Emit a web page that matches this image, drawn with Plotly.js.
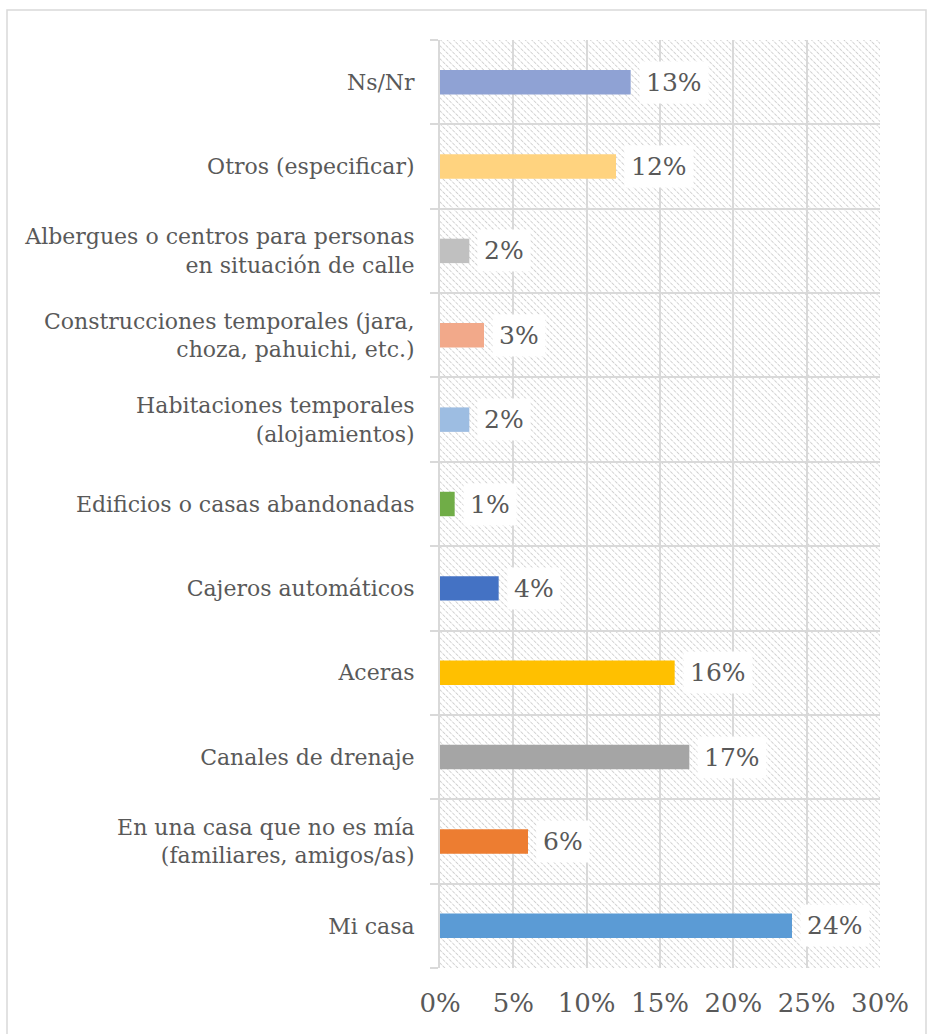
<!DOCTYPE html>
<html>
<head>
<meta charset="utf-8">
<script src="https://cdn.plot.ly/plotly-3.0.1.min.js"></script>
<style>
html,body{margin:0;padding:0;background:#fff;}
#chart{width:927px;height:1034px;}
</style>
</head>
<body>
<div id="chart"></div>
<script>
// Data (bottom to top)
var categories = [
  "Mi casa",
  "En una casa que no es mía<br>(familiares, amigos/as)",
  "Canales de drenaje",
  "Aceras",
  "Cajeros automáticos",
  "Edificios o casas abandonadas",
  "Habitaciones temporales<br>(alojamientos)",
  "Construcciones temporales (jara,<br>choza, pahuichi, etc.)",
  "Albergues o centros para personas<br>en situación de calle",
  "Otros (especificar)",
  "Ns/Nr"
];
var values = [24, 6, 17, 16, 4, 1, 2, 3, 2, 12, 13];
var barColors = ["#5B9BD5","#ED7D31","#A5A5A5","#FFC000","#4472C4","#70AD47","#9DBDE2","#F2A98A","#C0C0C0","#FFD37F","#8FA2D4"];
var xTickVals = [0, 5, 10, 15, 20, 25, 30];

var fontFam = "DejaVu Serif";
var txtColor = "#595959";

var hatchSvg = '<svg xmlns="http://www.w3.org/2000/svg" width="440" height="928">' +
  '<defs><pattern id="p" width="4.6" height="4.6" patternUnits="userSpaceOnUse" patternTransform="rotate(-45)">' +
  '<line x1="0" y1="0" x2="0" y2="4.6" stroke="#cdcdcd" stroke-width="1.7" stroke-dasharray="2,1.2"/></pattern></defs>' +
  '<rect width="440" height="928" fill="#ffffff"/><rect width="440" height="928" fill="url(#p)"/></svg>';
var hatchUri = "data:image/svg+xml;charset=utf-8," + encodeURIComponent(hatchSvg);

var trace = {
  type: "bar",
  orientation: "h",
  y: categories,
  x: values,
  marker: {color: barColors},
  width: 0.29,
  hoverinfo: "none"
};

var annotations = categories.map(function(c, i){
  return {
    x: values[i], y: c, xref: "x", yref: "y",
    text: values[i] + "%",
    showarrow: false, xanchor: "left", xshift: 8,
    bgcolor: "#ffffff", borderpad: 6,
    font: {family: fontFam, size: 25, color: txtColor}
  };
});

var layout = {
  width: 927, height: 1034,
  margin: {l: 440, r: 47, t: 40, b: 66, pad: 0},
  paper_bgcolor: "#ffffff",
  plot_bgcolor: "rgba(0,0,0,0)",
  showlegend: false,
  bargap: 0.7,
  font: {family: fontFam, size: 22, color: txtColor},
  xaxis: {
    range: [0, 30],
    tickvals: xTickVals,
    ticktext: xTickVals.map(function(v){return v + "%";}),
    showgrid: true, gridcolor: "#d9d9d9", gridwidth: 2,
    zeroline: false, showline: false,
    ticks: "", ticklabelstandoff: 17,
    tickfont: {family: fontFam, size: 26, color: txtColor},
    fixedrange: true
  },
  yaxis: {
    type: "category",
    categoryorder: "array", categoryarray: categories,
    tickson: "boundaries",
    ticks: "outside", ticklen: 8, tickcolor: "#d9d9d9", tickwidth: 2,
    showgrid: true, gridcolor: "#d9d9d9", gridwidth: 2,
    zeroline: false, showline: true, linecolor: "#d9d9d9", linewidth: 2,
    ticklabelstandoff: 19,
    tickfont: {family: fontFam, size: 22, color: txtColor},
    fixedrange: true
  },
  images: [{
    source: hatchUri, xref: "paper", yref: "paper",
    x: 0, y: 1, sizex: 1, sizey: 1, xanchor: "left", yanchor: "top",
    sizing: "stretch", layer: "below"
  }],
  shapes: [{
    type: "rect", xref: "paper", yref: "paper",
    x0: (7 - 440) / 440, x1: (926 - 440) / 440,
    y0: (968 - 1045) / 928, y1: (968 - 10) / 928,
    line: {color: "#d9d9d9", width: 1.5}, fillcolor: "rgba(0,0,0,0)",
    layer: "below"
  }],
  annotations: annotations
};

Plotly.newPlot("chart", [trace], layout, {displayModeBar: false, staticPlot: true});
</script>
</body>
</html>
